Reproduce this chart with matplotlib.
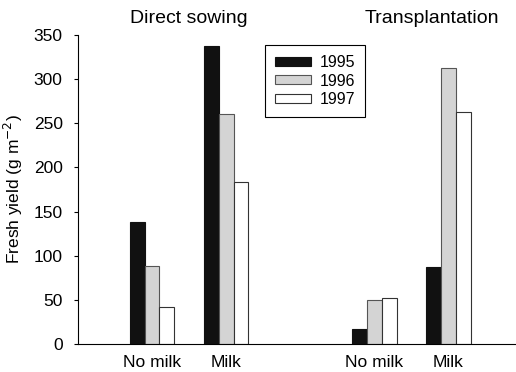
import numpy as np
import matplotlib.pyplot as plt

# Data
treatments = ["No milk", "Milk", "No milk", "Milk"]
years = ["1995", "1996", "1997"]
y1995 = [138, 337, 17, 87]
y1996 = [88, 260, 50, 313]
y1997 = [42, 183, 52, 263]
methods = ["Direct sowing", "Transplantation"]

plt.rcParams['font.family'] = ['Liberation Sans', 'DejaVu Sans']

fig = plt.figure(figsize=(5.16, 3.72), dpi=100)
ax = fig.add_axes([0.151, 0.075, 0.849, 0.831])

pos = np.array([0, 1, 3, 4])
w = 0.2
ax.bar(pos - w, y1995, w, color="#111111", edgecolor="#111111", linewidth=0.8, label=years[0])
ax.bar(pos, y1996, w, color="#d4d4d4", edgecolor="#555555", linewidth=0.8, label=years[1])
ax.bar(pos + w, y1997, w, color="white", edgecolor="#333333", linewidth=0.8, label=years[2])

ax.set_xlim(-1.0, 4.91)
ax.set_ylim(0, 350)
ax.set_yticks(range(0, 351, 50))
ax.set_xticks(pos)
ax.set_xticklabels(treatments)
ax.tick_params(axis='x', length=0, labelsize=12.5, pad=8)
ax.tick_params(axis='y', labelsize=12.5, direction='out', length=3, pad=8)
ax.spines['top'].set_visible(False)
ax.spines['right'].set_visible(False)
ax.set_ylabel("Fresh yield (g m$^{-2}$)", fontsize=12.5, labelpad=6)

ax.text(0.49, 1.025, methods[0], transform=ax.get_xaxis_transform(), ha='center', va='bottom', fontsize=14)
ax.text(3.78, 1.025, methods[1], transform=ax.get_xaxis_transform(), ha='center', va='bottom', fontsize=14)

leg = ax.legend(loc='upper left', bbox_to_anchor=(0.409, 0.992), fancybox=False,
                edgecolor='black', framealpha=1, fontsize=11.5, handlelength=2.3,
                handleheight=0.5, handletextpad=0.55, borderpad=0.6, labelspacing=0.22)
leg.get_frame().set_linewidth(0.8)

fig.savefig("out.png", dpi=100)
